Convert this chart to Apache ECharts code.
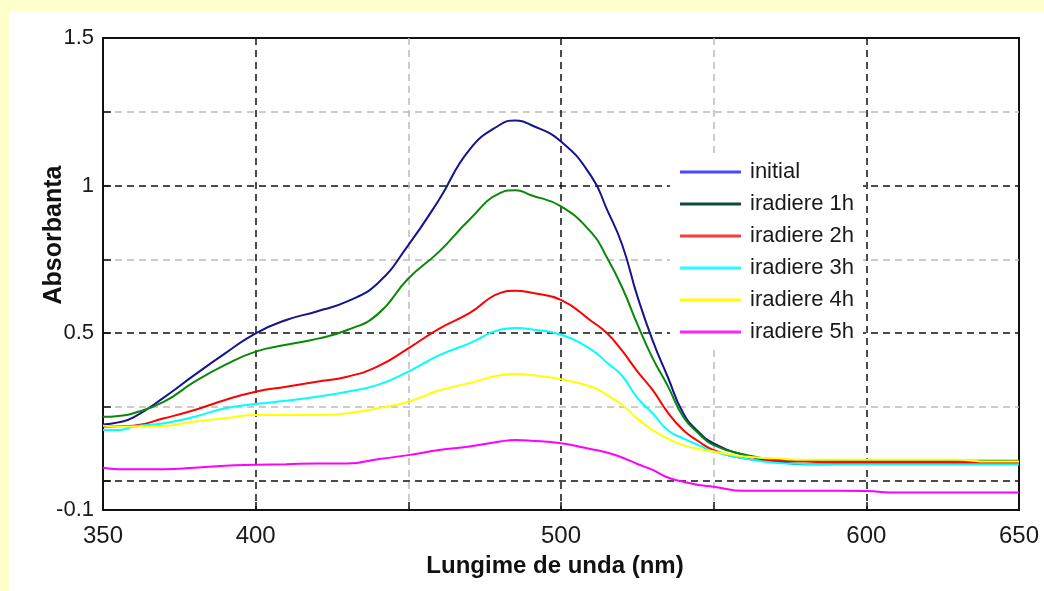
<!DOCTYPE html>
<html>
<head>
<meta charset="utf-8">
<script src="https://cdn.jsdelivr.net/npm/echarts@6/dist/echarts.min.js"></script>
<style>
  html, body { margin: 0; padding: 0; background: #ffffcc; }
  #paper { position: absolute; left: 9px; top: 11px; right: 0; bottom: 0; background: #ffffff; }
  #chart { position: absolute; left: 0; top: 0; width: 1044px; height: 591px; }
</style>
</head>
<body>
<div id="paper"></div>
<div id="chart"></div>
<script>
// Absorption spectra of the dye solution after successive irradiation times
const wavelengths = [350, 355, 360, 370, 380, 390, 400, 410, 420, 430, 440, 450, 460, 470, 480, 485, 490, 500, 510, 515, 520, 525, 530, 535, 540, 545, 550, 560, 570, 580, 590, 600, 610, 620, 630, 640, 650];

const initial = [0.19, 0.197, 0.214, 0.282, 0.358, 0.431, 0.499, 0.544, 0.573, 0.607, 0.669, 0.798, 0.951, 1.121, 1.206, 1.22, 1.206, 1.149, 1.03, 0.92, 0.80, 0.625, 0.475, 0.35, 0.229, 0.165, 0.126, 0.086, 0.065, 0.055, 0.056, 0.057, 0.057, 0.057, 0.058, 0.058, 0.058];
const irr1h = [0.216, 0.219, 0.228, 0.267, 0.335, 0.392, 0.437, 0.46, 0.48, 0.51, 0.564, 0.685, 0.775, 0.884, 0.974, 0.984, 0.968, 0.929, 0.84, 0.757, 0.655, 0.53, 0.415, 0.32, 0.216, 0.16, 0.12, 0.088, 0.072, 0.068, 0.067, 0.066, 0.066, 0.066, 0.067, 0.067, 0.067];
const irr2h = [0.183, 0.184, 0.186, 0.211, 0.239, 0.273, 0.301, 0.318, 0.335, 0.352, 0.387, 0.448, 0.514, 0.567, 0.635, 0.643, 0.637, 0.612, 0.54, 0.50, 0.44, 0.37, 0.307, 0.23, 0.171, 0.133, 0.103, 0.075, 0.066, 0.064, 0.062, 0.062, 0.062, 0.062, 0.062, 0.062, 0.062];
const irr3h = [0.171, 0.171, 0.183, 0.194, 0.216, 0.245, 0.259, 0.27, 0.284, 0.301, 0.324, 0.369, 0.424, 0.465, 0.511, 0.517, 0.513, 0.494, 0.443, 0.40, 0.355, 0.28, 0.228, 0.17, 0.143, 0.12, 0.098, 0.075, 0.06, 0.056, 0.055, 0.055, 0.055, 0.055, 0.055, 0.055, 0.055];
const irr4h = [0.186, 0.183, 0.183, 0.185, 0.2, 0.211, 0.222, 0.222, 0.222, 0.228, 0.245, 0.267, 0.305, 0.33, 0.357, 0.361, 0.358, 0.343, 0.318, 0.29, 0.257, 0.21, 0.171, 0.142, 0.12, 0.107, 0.098, 0.081, 0.075, 0.07, 0.07, 0.07, 0.07, 0.07, 0.07, 0.064, 0.064];
const irr5h = [0.043, 0.038, 0.038, 0.038, 0.043, 0.05, 0.053, 0.055, 0.058, 0.058, 0.072, 0.086, 0.103, 0.115, 0.132, 0.137, 0.135, 0.126, 0.106, 0.095, 0.078, 0.056, 0.036, 0.01, -0.004, -0.015, -0.021, -0.035, -0.035, -0.035, -0.035, -0.036, -0.041, -0.041, -0.041, -0.041, -0.041];

const seriesNames = ['initial', 'iradiere 1h', 'iradiere 2h', 'iradiere 3h', 'iradiere 4h', 'iradiere 5h'];
const seriesValues = [initial, irr1h, irr2h, irr3h, irr4h, irr5h];
const lineColors = ['#14148c', '#0a870a', '#ff0000', '#00ffff', '#ffff00', '#ff00ff'];
const legendColors = ['#4848ff', '#0a4a42', '#ff3a3a', '#22ffff', '#ffff00', '#ff22ff'];

const xLabelTicks = [350, 400, 500, 600, 650];
const yLabelTicks = [-0.1, 0.5, 1, 1.5];
const yTickValues = [0, 0.25, 0.5, 0.75, 1, 1.25];

const FONT = '"Liberation Sans", Arial, sans-serif';

const chart = echarts.init(document.getElementById('chart'), null, { renderer: 'canvas' });

chart.setOption({
  animation: false,
  backgroundColor: 'transparent',
  grid: {
    left: 103, top: 38, width: 916, height: 472,
    show: true, borderColor: '#111', borderWidth: 2, backgroundColor: '#fff'
  },
  xAxis: {
    type: 'value', min: 350, max: 650, interval: 50,
    axisLine: { show: true, onZero: false, lineStyle: { color: '#111', width: 2 } },
    axisTick: { show: true, inside: true, length: 8, lineStyle: { color: '#111', width: 1.5 } },
    axisLabel: {
      margin: 14, fontSize: 24, color: '#1a1a1a', fontFamily: FONT,
      formatter: v => (xLabelTicks.indexOf(v) >= 0 ? String(v) : '')
    },
    splitLine: {
      show: true, showMinLine: false, showMaxLine: false,
      lineStyle: { color: ['#111', '#bcbcbc'], width: 1.5, type: [7, 5] }
    }
  },
  yAxis: {
    type: 'value', min: -0.1, max: 1.5,
    axisLine: { show: true, onZero: false, lineStyle: { color: '#111', width: 2 } },
    axisTick: { show: true, inside: true, length: 8, customValues: yTickValues, lineStyle: { color: '#111', width: 1.5 } },
    axisLabel: {
      margin: 9, fontSize: 22, color: '#1a1a1a', fontFamily: FONT,
      customValues: yLabelTicks,
      formatter: v => String(v)
    },
    splitLine: {
      show: true,
      lineStyle: { color: ['#111', '#bcbcbc'], width: 1.5, type: [7, 5] }
    }
  },
  legend: {
    left: 670, top: 157, orient: 'vertical',
    backgroundColor: '#fff', padding: [4, 9, 6, 10],
    itemWidth: 61, itemHeight: 3, itemGap: 10,
    textStyle: { fontSize: 22, color: '#1a1a1a', fontFamily: FONT, padding: [0, 0, 0, 4] },
    data: seriesNames.map((n, i) => ({
      name: n,
      icon: 'rect',
      itemStyle: { color: legendColors[i] }
    }))
  },
  graphic: [
    {
      type: 'text', x: 54, y: 235, rotation: Math.PI / 2,
      style: {
        text: 'Absorbanta', font: 'bold 25px ' + FONT, fill: '#111',
        textAlign: 'center', textVerticalAlign: 'middle'
      }
    },
    {
      type: 'text', x: 555, y: 566,
      style: {
        text: 'Lungime de unda (nm)', font: 'bold 24px ' + FONT, fill: '#111',
        textAlign: 'center', textVerticalAlign: 'middle'
      }
    }
  ],
  series: seriesValues.map((vals, i) => ({
    name: seriesNames[i],
    type: 'line',
    symbol: 'none',
    smooth: 0.5,
    z: 3,
    lineStyle: { color: lineColors[i], width: 2 },
    itemStyle: { color: lineColors[i] },
    data: wavelengths.map((w, k) => [w, vals[k]])
  }))
});
</script>
</body>
</html>
